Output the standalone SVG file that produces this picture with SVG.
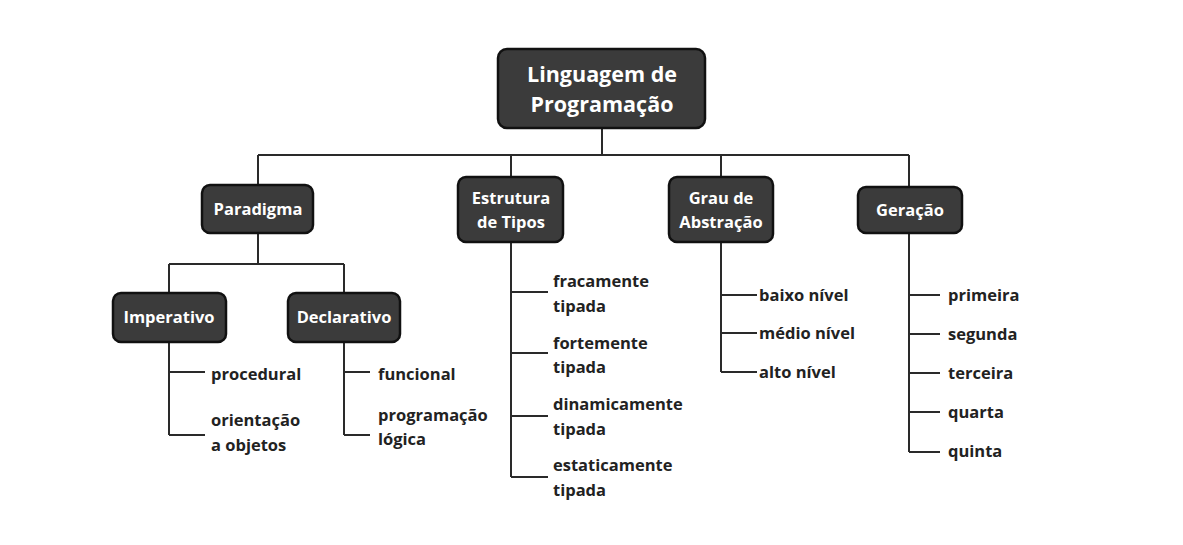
<svg xmlns="http://www.w3.org/2000/svg" width="1183" height="545" viewBox="0 0 1183 545">
<style>
.box{fill:#3b3b3b;stroke:#111;stroke-width:2.5}
.bt{font-family:"Open Sans",Lato,sans-serif;font-weight:bold;fill:#fff;text-anchor:middle;font-size:16.5px}
.rt{font-size:21.5px}
.lt{font-family:"Open Sans",Lato,sans-serif;font-weight:bold;fill:#222;font-size:16.5px}
.c{fill:none;stroke:#2a2a2a;stroke-width:2}
</style>
<rect width="1183" height="545" fill="#fff"/>
<g id="connectors" class="c">
<path d="M602 128V155M258 155H909M258 155V185M511 155V177M721 155V177M909 155V187"/>
<path d="M258 233V264M169 264H344M169 264V293M344 264V293"/>
<path d="M169 342V435M169 372H205M169 435H205"/>
<path d="M344 342V435M344 372H370M344 435H370"/>
<path d="M511 242V477M511 292H548M511 353H548M511 416H548M511 477H548"/>
<path d="M721 242V372M721 295H757M721 333H757M721 372H757"/>
<path d="M909 233V452M909 295H940M909 334H940M909 373H940M909 412H940M909 452H940"/>
</g>
<g id="root"><rect class="box" x="498" y="49" width="207" height="79" rx="9"/><text class="bt rt" x="602" y="82">Linguagem de</text><text class="bt rt" x="602" y="112">Programação</text></g>
<g id="paradigma"><rect class="box" x="202" y="185" width="111" height="48" rx="8"/><text class="bt" x="258" y="215">Paradigma</text></g>
<g id="estrutura"><rect class="box" x="458" y="177" width="105" height="65" rx="8"/><text class="bt" x="511" y="204">Estrutura</text><text class="bt" x="511" y="228">de Tipos</text></g>
<g id="grau"><rect class="box" x="669" y="177" width="104" height="65" rx="8"/><text class="bt" x="721" y="204">Grau de</text><text class="bt" x="721" y="228">Abstração</text></g>
<g id="geracao"><rect class="box" x="858" y="187" width="104" height="46" rx="8"/><text class="bt" x="910" y="216">Geração</text></g>
<g id="imperativo"><rect class="box" x="113" y="293" width="113" height="49" rx="8"/><text class="bt" x="169" y="323">Imperativo</text></g>
<g id="declarativo"><rect class="box" x="288" y="293" width="112" height="49" rx="8"/><text class="bt" x="344" y="323">Declarativo</text></g>
<g id="leaves">
<text class="lt" x="211" y="380">procedural</text>
<text class="lt" x="211" y="426">orientação</text><text class="lt" x="211" y="451">a objetos</text>
<text class="lt" x="378" y="380">funcional</text>
<text class="lt" x="378" y="421">programação</text><text class="lt" x="378" y="445">lógica</text>
<text class="lt" x="553" y="287">fracamente</text><text class="lt" x="553" y="312">tipada</text>
<text class="lt" x="553" y="349">fortemente</text><text class="lt" x="553" y="373">tipada</text>
<text class="lt" x="553" y="410">dinamicamente</text><text class="lt" x="553" y="435">tipada</text>
<text class="lt" x="553" y="471">estaticamente</text><text class="lt" x="553" y="496">tipada</text>
<text class="lt" x="759" y="301">baixo nível</text>
<text class="lt" x="759" y="339">médio nível</text>
<text class="lt" x="759" y="378">alto nível</text>
<text class="lt" x="948" y="301">primeira</text>
<text class="lt" x="948" y="340">segunda</text>
<text class="lt" x="948" y="379">terceira</text>
<text class="lt" x="948" y="418">quarta</text>
<text class="lt" x="948" y="457">quinta</text>
</g>
</svg>
